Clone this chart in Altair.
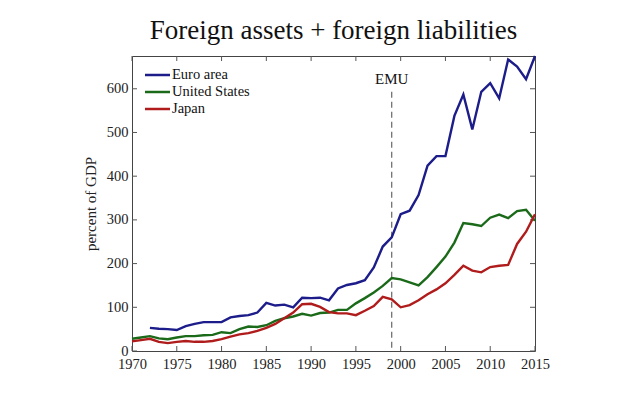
import altair as alt
import pandas as pd

years = list(range(1970, 2016))
euro_years = list(range(1972, 2016))
euro = [53, 51, 50, 48, 57, 62, 66, 66, 66, 77, 80, 82, 88, 110, 104, 106, 100, 122, 121, 122, 116,
        143, 151, 155, 162, 191, 239, 260, 313, 321, 357, 424, 446, 446, 538, 587, 507, 593, 613, 578,
        667, 651, 622, 675]
us = [28, 31, 34, 29, 27, 31, 34, 34, 36, 37, 43, 41, 50, 56, 55, 59, 69, 75, 79, 85, 81, 87, 88,
      94, 94, 109, 121, 134, 149, 167, 164, 157, 150, 169, 192, 216, 248, 293, 290, 286, 305, 312,
      304, 320, 323, 298]
japan = [22, 25, 28, 21, 18, 21, 23, 21, 21, 23, 27, 33, 38, 41, 46, 53, 62, 75, 88, 107, 108, 101,
         89, 86, 86, 82, 92, 103, 124, 118, 100, 105, 116, 130, 141, 155, 174, 195, 184, 180, 192,
         195, 197, 245, 273, 313]
series_names = ["Euro area", "United States", "Japan"]
colors = ["#1c1c8a", "#1a6a1a", "#b01c1c"]
x_ticks = list(range(1970, 2016, 5))
y_ticks = list(range(0, 700, 100))
emu_year = 1999
emu_top = 593

rows = []
for y, v in zip(euro_years, euro):
    rows.append({"year": y, "value": v, "series": "Euro area"})
for y, v in zip(years, us):
    rows.append({"year": y, "value": v, "series": "United States"})
for y, v in zip(years, japan):
    rows.append({"year": y, "value": v, "series": "Japan"})
df = pd.DataFrame(rows)

FONT = "Liberation Serif"
W, H = 403, 295
PL, PT = 124, 48
PR = 640 - 16 - PL - W
PB = 400 - 16 - PT - H
xs = alt.Scale(domain=[1970, 2015], nice=False)
ys = alt.Scale(domain=[0, 675], nice=False)

lines = alt.Chart(df).mark_line(strokeWidth=2.4).encode(
    x=alt.X("year:Q", scale=xs,
            axis=alt.Axis(values=x_ticks, format="d", title=None, tickSize=0, domain=False,
                          labelFont=FONT, labelFontSize=14.5, labelColor="#222", labelPadding=6,
                          labelFlush=False, labelOverlap=False, grid=False)),
    y=alt.Y("value:Q", scale=ys,
            axis=alt.Axis(values=y_ticks, title="percent of GDP", tickSize=0, domain=False,
                          labelFont=FONT, labelFontSize=14.5, labelColor="#222", labelPadding=4,
                          labelFlush=False, labelOverlap=False,
                          titleFont=FONT, titleFontSize=15, titleFontWeight="normal",
                          titleColor="#222", titlePadding=8, grid=False)),
    color=alt.Color("series:N", scale=alt.Scale(domain=series_names, range=colors), legend=None),
)

# manual legend (layout only)
legend_layers = []
for i, (name, col) in enumerate(zip(series_names, colors)):
    ly = 19 + 17 * i
    ld = pd.DataFrame({"series": [name]})
    legend_layers.append(alt.Chart(ld).mark_rule(color=col, strokeWidth=2.5).encode(
        x=alt.value(13), x2=alt.value(38), y=alt.value(ly)))
    legend_layers.append(alt.Chart(ld).mark_text(font=FONT, fontSize=14.5, color="#111",
                                                 align="left", baseline="middle").encode(
        x=alt.value(40), y=alt.value(ly), text="series:N"))

xt = pd.DataFrame({"year": x_ticks})
yt = pd.DataFrame({"value": y_ticks})
tick_color = "#555"
xtb = alt.Chart(xt).mark_rule(color=tick_color, strokeWidth=1).encode(
    x=alt.X("year:Q", scale=xs), y=alt.value(H), y2=alt.value(H - 5))
xtt = alt.Chart(xt).mark_rule(color=tick_color, strokeWidth=1).encode(
    x=alt.X("year:Q", scale=xs), y=alt.value(0), y2=alt.value(5))
ytl = alt.Chart(yt).mark_rule(color=tick_color, strokeWidth=1).encode(
    y=alt.Y("value:Q", scale=ys), x=alt.value(0), x2=alt.value(5))
ytr = alt.Chart(yt).mark_rule(color=tick_color, strokeWidth=1).encode(
    y=alt.Y("value:Q", scale=ys), x=alt.value(W), x2=alt.value(W - 5))

emu = pd.DataFrame({"year": [emu_year], "top": [emu_top], "bottom": [0], "label": ["EMU"]})
emu_rule = alt.Chart(emu).mark_rule(color="#666", strokeDash=[6, 4], strokeWidth=1.2).encode(
    x=alt.X("year:Q", scale=xs), y=alt.Y("top:Q", scale=ys), y2="bottom:Q")
emu_text = alt.Chart(emu).mark_text(font=FONT, fontSize=15, color="#111", baseline="bottom", dy=-5).encode(
    x=alt.X("year:Q", scale=xs), y=alt.Y("top:Q", scale=ys), text="label:N")

chart = alt.layer(xtb, xtt, ytl, ytr, emu_rule, emu_text, lines, *legend_layers).properties(
    width=W, height=H,
    title=alt.TitleParams("Foreign assets + foreign liabilities", font=FONT, fontSize=27,
                          fontWeight="normal", color="#111", offset=6, anchor="middle"),
    autosize=alt.AutoSizeParams(type="none"),
    padding={"left": PL, "top": PT, "right": PR, "bottom": PB},
).configure(font=FONT).configure_view(stroke="#444", strokeWidth=1)

chart.save("out.html", embed_options={"renderer": "svg", "actions": False})
